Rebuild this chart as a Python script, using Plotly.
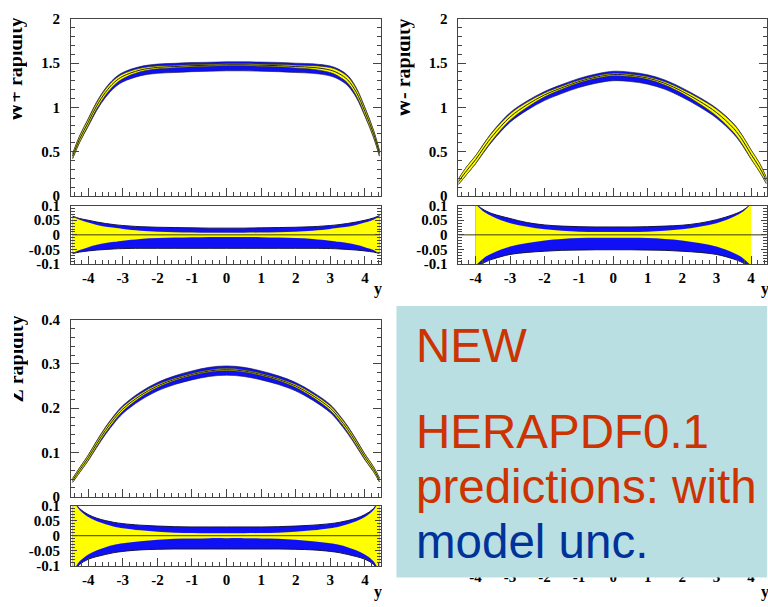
import plotly.graph_objects as go

# ---------------- data ----------------
# W+ rapidity panel
x_wp = [-4.45, -4.25, -4.0, -3.75, -3.5, -3.25, -3.0, -2.5, -2.0, -1.5, -1.0, -0.5, 0.0,
        0.5, 1.0, 1.5, 2.0, 2.5, 3.0, 3.25, 3.5, 3.75, 4.0, 4.25, 4.42]
c_wp = [0.45, 0.64, 0.83, 1.02, 1.17, 1.28, 1.35, 1.42, 1.45, 1.46, 1.47, 1.475, 1.48,
        1.48, 1.475, 1.47, 1.46, 1.45, 1.42, 1.38, 1.31, 1.17, 0.95, 0.70, 0.48]
exp_wp = [0.062, 0.052, 0.042, 0.034, 0.028, 0.024, 0.020, 0.014, 0.011, 0.009, 0.008, 0.007, 0.007,
          0.007, 0.008, 0.009, 0.011, 0.014, 0.020, 0.024, 0.028, 0.034, 0.042, 0.052, 0.064]
up_wp = [0.064, 0.056, 0.050, 0.044, 0.039, 0.035, 0.032, 0.028, 0.026, 0.025, 0.024, 0.023, 0.023,
         0.023, 0.024, 0.025, 0.026, 0.028, 0.032, 0.035, 0.039, 0.044, 0.050, 0.058, 0.066]
lo_wp = [-0.064, -0.059, -0.055, -0.052, -0.050, -0.048, -0.047, -0.046, -0.046, -0.046, -0.046, -0.046, -0.046,
         -0.046, -0.046, -0.046, -0.046, -0.046, -0.047, -0.048, -0.050, -0.052, -0.055, -0.059, -0.064]

# W- rapidity panel
x_wm = [-4.5, -4.25, -4.0, -3.75, -3.5, -3.0, -2.5, -2.0, -1.5, -1.0, -0.5, 0.0, 0.5,
        1.0, 1.5, 2.0, 2.5, 3.0, 3.5, 3.75, 4.0, 4.25, 4.45]
c_wm = [0.16, 0.29, 0.41, 0.55, 0.68, 0.89, 1.03, 1.14, 1.22, 1.29, 1.34, 1.37, 1.36,
        1.33, 1.27, 1.18, 1.07, 0.94, 0.76, 0.63, 0.47, 0.32, 0.17]
exp_wm = [0.20, 0.15, 0.105, 0.078, 0.062, 0.040, 0.028, 0.019, 0.014, 0.011, 0.010, 0.010, 0.010,
          0.011, 0.014, 0.019, 0.028, 0.040, 0.062, 0.078, 0.105, 0.15, 0.20]
up_wm = [0.20, 0.15, 0.105, 0.085, 0.072, 0.056, 0.042, 0.034, 0.030, 0.028, 0.027, 0.027, 0.027,
         0.028, 0.030, 0.033, 0.040, 0.052, 0.070, 0.083, 0.105, 0.15, 0.20]
lo_wm = [-0.20, -0.15, -0.115, -0.095, -0.083, -0.067, -0.060, -0.056, -0.053, -0.052, -0.051, -0.051, -0.051,
         -0.052, -0.053, -0.056, -0.060, -0.067, -0.083, -0.095, -0.115, -0.15, -0.20]
wm_ratio_limit = 4.0

# Z rapidity panel
x_z = [-4.45, -4.25, -4.0, -3.75, -3.5, -3.25, -3.0, -2.5, -2.0, -1.5, -1.0, -0.5, 0.0,
       0.5, 1.0, 1.5, 2.0, 2.5, 3.0, 3.25, 3.5, 3.75, 4.0, 4.25, 4.42]
c_z = [0.037, 0.060, 0.088, 0.120, 0.150, 0.176, 0.198, 0.228, 0.250, 0.265, 0.276, 0.284, 0.287,
       0.284, 0.276, 0.265, 0.250, 0.228, 0.200, 0.178, 0.152, 0.122, 0.090, 0.062, 0.038]
exp_z = [0.12, 0.085, 0.062, 0.048, 0.038, 0.030, 0.025, 0.018, 0.013, 0.010, 0.009, 0.008, 0.008,
         0.008, 0.009, 0.010, 0.013, 0.018, 0.025, 0.030, 0.038, 0.048, 0.062, 0.085, 0.12]
up_z = [0.12, 0.09, 0.070, 0.058, 0.050, 0.044, 0.040, 0.035, 0.032, 0.030, 0.029, 0.029, 0.029,
        0.029, 0.029, 0.030, 0.032, 0.035, 0.040, 0.044, 0.050, 0.058, 0.070, 0.09, 0.12]
lo_z = [-0.12, -0.095, -0.078, -0.069, -0.062, -0.056, -0.052, -0.047, -0.045, -0.044, -0.044, -0.044, -0.044,
        -0.044, -0.044, -0.044, -0.045, -0.047, -0.052, -0.056, -0.062, -0.069, -0.078, -0.095, -0.12]

# tick labels
x_tickvals = [-4, -3, -2, -1, 0, 1, 2, 3, 4]
x_ticktext = ["-4", "-3", "-2", "-1", "0", "1", "2", "3", "4"]
w_tickvals = [0, 0.5, 1, 1.5, 2]
w_ticktext = ["0", "0.5", "1", "1.5", "2"]
z_tickvals = [0, 0.1, 0.2, 0.3, 0.4]
z_ticktext = ["0", "0.1", "0.2", "0.3", "0.4"]
r_tickvals = [-0.1, -0.05, 0, 0.05, 0.1]
r_ticktext = ["-0.1", "-0.05", "0", "0.05", "0.1"]

titles = ["W+ rapidity", "W- rapidity", "Z rapidity"]
box_lines = ["NEW", "HERAPDF0.1", "predictions: with", "model unc."]
box_colors = ["#cc3300", "#cc3300", "#cc3300", "#003399"]

# ---------------- layout helpers ----------------
W, H = 768, 607
def PX(p):
    return p / W
def PY(p):
    return 1 - p / H

BLUE = "#1010f4"
YEL = "#ffff00"
BEDGE = "#14143c"
DARK = "#222222"
FRAME = "#444444"
TFONT = dict(family="Liberation Serif, Times New Roman, serif", size=15, color="black", weight="bold")

fig = go.Figure()

def band(xs, lo, hi, xa, ya, fill, edge, ew):
    fig.add_trace(go.Scatter(x=xs, y=lo, mode="lines", line=dict(color=edge, width=ew, shape="spline"),
                             xaxis=xa, yaxis=ya, showlegend=False, hoverinfo="skip"))
    fig.add_trace(go.Scatter(x=xs, y=hi, mode="lines", line=dict(color=edge, width=ew, shape="spline"),
                             fill="tonexty", fillcolor=fill,
                             xaxis=xa, yaxis=ya, showlegend=False, hoverinfo="skip"))

def panel(xs, cen, exp, up, lo, xm, ym, xr, yr, rlim=None):
    b_lo = [c * (1 + l) for c, l in zip(cen, lo)]
    b_hi = [c * (1 + u) for c, u in zip(cen, up)]
    y_lo = [c * (1 - e) for c, e in zip(cen, exp)]
    y_hi = [c * (1 + e) for c, e in zip(cen, exp)]
    band(xs, b_lo, b_hi, xm, ym, BLUE, BEDGE, 0.6)
    band(xs, y_lo, y_hi, xm, ym, YEL, "#333300", 0.6)
    fig.add_trace(go.Scatter(x=xs, y=cen, mode="lines", line=dict(color=DARK, width=1, shape="spline"),
                             xaxis=xm, yaxis=ym, showlegend=False, hoverinfo="skip"))
    # ratio panel
    idx = [i for i, x in enumerate(xs) if rlim is None or abs(x) <= rlim]
    rx = [xs[i] for i in idx]
    band(rx, [lo[i] for i in idx], [up[i] for i in idx], xr, yr, BLUE, BEDGE, 1.0)
    band(rx, [-exp[i] for i in idx], [exp[i] for i in idx], xr, yr, YEL, YEL, 0.1)
    zero = [c / c - 1 for c in cen]
    fig.add_trace(go.Scatter(x=xs, y=zero, mode="lines", line=dict(color="#3a3a10", width=1),
                             xaxis=xr, yaxis=yr, showlegend=False, hoverinfo="skip"))

panel(x_wp, c_wp, exp_wp, up_wp, lo_wp, "x", "y", "x2", "y2")
panel(x_wm, c_wm, exp_wm, up_wm, lo_wm, "x3", "y3", "x4", "y4", wm_ratio_limit)
panel(x_z, c_z, exp_z, up_z, lo_z, "x5", "y5", "x6", "y6")
fig.add_trace(go.Scatter(x=[], y=[], xaxis="x7", yaxis="y7", showlegend=False))

XR = [-4.5, 4.45]
left_dom = [PX(71), PX(381)]
right_dom = [PX(459), PX(767.5)]
top_main = [PY(193), PY(11)]
top_rat = [PY(263), PY(203)]
bot_main = [PY(502), PY(320)]
bot_rat = [PY(573), PY(511)]

def xax(dom, anchor, labels):
    return dict(domain=dom, anchor=anchor, range=XR, showline=True, linecolor=FRAME, linewidth=1,
                mirror=True, ticks="inside", ticklen=8, tickcolor=FRAME, tickvals=x_tickvals,
                ticktext=x_ticktext, showticklabels=labels, tickfont=TFONT, ticklabelstandoff=0,
                minor=dict(ticks="inside", ticklen=4, dtick=0.2, tick0=0, tickcolor=FRAME),
                showgrid=False, zeroline=False, layer="above traces", fixedrange=True)

def yax(dom, anchor, rng, tv, tt, mdt, tl=8):
    return dict(domain=dom, anchor=anchor, range=rng, showline=True, linecolor=FRAME, linewidth=1,
                mirror="allticks", ticks="inside", ticklen=tl, tickcolor=FRAME, tickvals=tv,
                ticktext=tt, tickfont=TFONT, ticklabelstandoff=7,
                minor=dict(ticks="inside", ticklen=4, dtick=mdt, tick0=0, tickcolor=FRAME),
                showgrid=False, zeroline=False, layer="above traces", fixedrange=True)

fig.update_layout(
    width=W, height=H, margin=dict(l=0, r=0, t=0, b=0),
    paper_bgcolor="white", plot_bgcolor="white", showlegend=False,
    xaxis=xax(left_dom, "y", False), yaxis=yax(top_main, "x", [0, 2], w_tickvals, w_ticktext, 0.1),
    xaxis2=xax(left_dom, "y2", True), yaxis2=yax(top_rat, "x2", [-0.1, 0.1], r_tickvals, r_ticktext, 0.01, 6),
    xaxis3=xax(right_dom, "y3", False), yaxis3=yax(top_main, "x3", [0, 2], w_tickvals, w_ticktext, 0.1),
    xaxis4=xax(right_dom, "y4", True), yaxis4=yax(top_rat, "x4", [-0.1, 0.1], r_tickvals, r_ticktext, 0.01, 6),
    xaxis5=xax(left_dom, "y5", False), yaxis5=yax(bot_main, "x5", [0, 0.4], z_tickvals, z_ticktext, 0.02),
    xaxis6=xax(left_dom, "y6", True), yaxis6=yax(bot_rat, "x6", [-0.1, 0.1], r_tickvals, r_ticktext, 0.01, 6),
    xaxis7=dict(domain=right_dom, anchor="y7", range=XR, showline=False, ticks="", tickvals=x_tickvals,
                ticktext=x_ticktext, tickfont=TFONT, ticklabelstandoff=0, showgrid=False, zeroline=False),
    yaxis7=dict(domain=bot_rat, anchor="x7", range=[-0.1, 0.1], visible=False),
)

# blue-grey text box
fig.add_shape(type="rect", xref="paper", yref="paper", x0=PX(397), x1=1.0, y0=PY(585), y1=PY(306),
              fillcolor="#b9dfe3", line=dict(width=0), layer="above")

ann = []
# clipped, rotated y titles
for t, cx, cy in [(titles[0], 20.5, 63), (titles[1], 408.5, 62), (titles[2], 20.5, 360)]:
    ann.append(dict(text=t, x=PX(cx), y=PY(cy), xref="paper", yref="paper", showarrow=False,
                    textangle=-90, width=120, height=14, valign="bottom", xanchor="center",
                    yanchor="middle", font=dict(family="Liberation Serif, serif", size=20,
                                                color="black", weight="bold")))
# x-axis titles
for cx, cy in [(378, 289), (766, 289), (378, 600), (766, 600)]:
    ann.append(dict(text="y", x=PX(cx), y=PY(cy), xref="paper", yref="paper", showarrow=False,
                    xanchor="center", yanchor="middle",
                    font=dict(family="Liberation Serif, serif", size=16, color="black", weight="bold")))
# text box lines
for t, col, cy in zip(box_lines, box_colors, [347, 435, 491, 548]):
    ann.append(dict(text=t, x=PX(415), y=PY(cy), xref="paper", yref="paper", showarrow=False,
                    xanchor="left", yanchor="middle",
                    font=dict(family="Liberation Sans, Arial, sans-serif", size=47.5, color=col)))
fig.update_layout(annotations=ann)

fig.write_html("out.html")
